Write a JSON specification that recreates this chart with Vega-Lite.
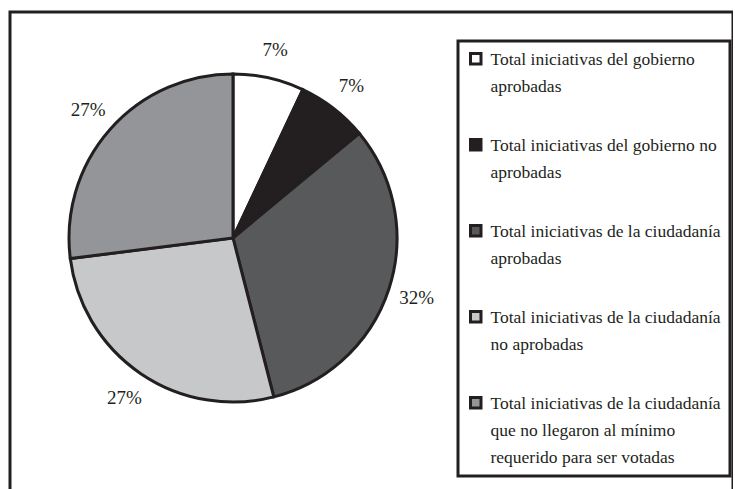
{
  "$schema": "https://vega.github.io/schema/vega-lite/v6.json",
  "width": 723,
  "height": 479,
  "autosize": "none",
  "padding": {"left": 10, "top": 12, "right": 0, "bottom": 0},
  "background": "white",
  "view": {"stroke": "#231f20", "strokeWidth": 3, "fill": "white"},
  "config": {
    "font": "Liberation Serif",
    "legend": {"strokeColor": "#231f20", "strokeWidth": 3}
  },
  "data": {
    "values": [
      {"cat": "Total iniciativas del gobierno\naprobadas", "pct": 7, "label": "7%", "order": 1},
      {"cat": "Total iniciativas del gobierno no\naprobadas", "pct": 7, "label": "7%", "order": 2},
      {"cat": "Total iniciativas de la ciudadanía\naprobadas", "pct": 32, "label": "32%", "order": 3},
      {"cat": "Total iniciativas de la ciudadanía\nno aprobadas", "pct": 27, "label": "27%", "order": 4},
      {"cat": "Total iniciativas de la ciudadanía\nque no llegaron al mínimo\nrequerido para ser votadas", "pct": 27, "label": "27%", "order": 5}
    ]
  },
  "encoding": {
    "theta": {"field": "pct", "type": "quantitative", "stack": true},
    "order": {"field": "order", "type": "quantitative"}
  },
  "layer": [
    {
      "mark": {"type": "arc", "x": 223, "y": 226, "outerRadius": 164, "stroke": "#231f20", "strokeWidth": 3, "opacity": 1},
      "encoding": {
        "color": {
          "field": "cat",
          "type": "nominal",
          "sort": {"field": "order"},
          "scale": {"range": ["#ffffff", "#231f20", "#58595b", "#c7c8ca", "#939598"]},
          "legend": {
            "title": null,
            "orient": "none",
            "legendX": 448,
            "legendY": 29,
            "padding": 9,
            "rowPadding": 37,
            "symbolType": "square",
            "symbolSize": 110,
            "symbolStrokeWidth": 3,
            "symbolStrokeColor": "#231f20",
            "symbolOpacity": 1,
            "labelFont": "Liberation Serif",
            "labelFontSize": 17.5,
            "labelColor": "#231f20",
            "labelLimit": 0,
            "labelOffset": 6,
            "labelBaseline": "top",
            "labelExpr": "split(datum.label, '\\n')",
            "encode": {"labels": {"update": {"lineHeight": {"value": 27}, "dy": {"value": -8}}}}
          }
        }
      }
    },
    {
      "mark": {"type": "text", "x": 223, "y": 226, "radius": 193, "fontSize": 19, "font": "Liberation Serif", "color": "#231f20"},
      "encoding": {"text": {"field": "label", "type": "nominal"}}
    }
  ]
}
